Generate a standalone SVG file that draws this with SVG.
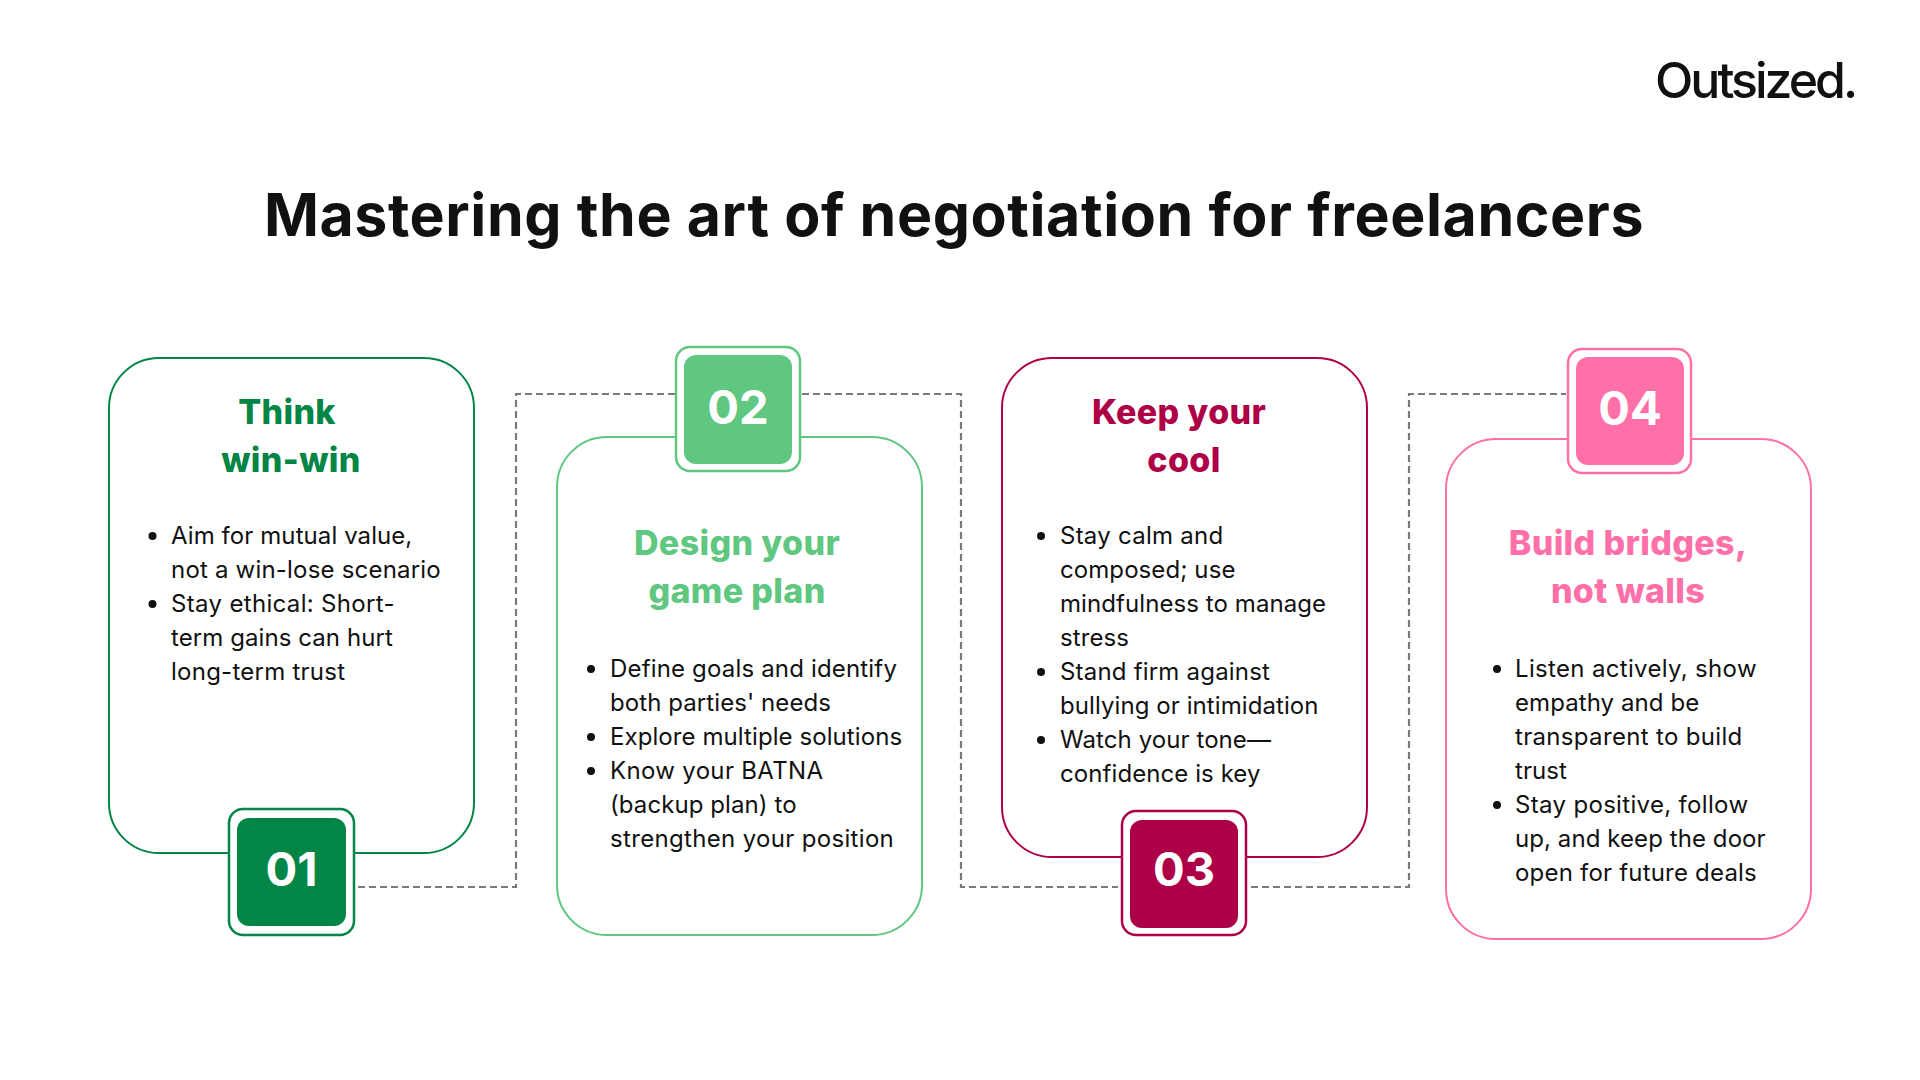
<svg xmlns="http://www.w3.org/2000/svg" width="1920" height="1080" viewBox="0 0 1920 1080">
<style>
text{font-family:"Inter","Noto Sans",sans-serif}
.card{fill:#fff;stroke-width:2}
.badge{fill:#fff;stroke-width:2.500}
.body{font-size:24px;fill:#111;letter-spacing:.08px}
.body.w{letter-spacing:.33px}
.head{font-size:34px;font-weight:800;text-anchor:middle;letter-spacing:.35px}
.num{font-size:47px;font-weight:700;fill:#fff;text-anchor:middle}
.title{font-size:59px;font-weight:700;fill:#111;text-anchor:middle;letter-spacing:.6px}
.logo{font-size:50px;font-weight:500;fill:#111;letter-spacing:-3px}
.dash{fill:none;stroke:#7a7a7a;stroke-width:2.200;stroke-dasharray:7 4}
.dot{fill:#111}
</style>
<rect width="1920" height="1080" fill="#fff"/>
<text class="logo" x="1655" y="98">Outsized.</text>
<text class="title" x="954" y="236">Mastering the art of negotiation for freelancers</text>
<g id="connectors">
<path class="dash" d="M358 887H516V394H675"/>
<path class="dash" d="M802 394H961V887H1118"/>
<path class="dash" d="M1251 887H1409V394H1566"/>
</g>
<g id="node-01">
<rect class="card" x="109" y="358" width="365" height="495" rx="50" stroke="#038546"/>
<rect class="badge" x="229" y="809" width="125" height="126" rx="14" stroke="#038546"/>
<rect x="237" y="818" width="109" height="108" rx="12" fill="#038546"/>
<text class="num" x="291.500" y="886">01</text>
<text class="head" fill="#038546" x="287" y="424">Think</text>
<text class="head" fill="#038546" x="291" y="472">win-win</text>
<circle class="dot" cx="152.500" cy="536" r="4"/>
<text class="body" x="171" y="544">Aim for mutual value,</text>
<text class="body" x="171" y="578" style="letter-spacing:.2px">not a win-lose scenario</text>
<circle class="dot" cx="152.500" cy="604" r="4"/>
<text class="body w" x="171" y="612">Stay ethical: Short-</text>
<text class="body" x="171" y="646">term gains can hurt</text>
<text class="body" x="171" y="680" style="letter-spacing:.25px">long-term trust</text>
</g>
<g id="node-02">
<rect class="card" x="557" y="437" width="365" height="498" rx="50" stroke="#5fc77f"/>
<rect class="badge" x="676" y="347" width="124" height="124" rx="14" stroke="#5fc77f"/>
<rect x="684" y="355" width="108" height="109" rx="12" fill="#5fc77f"/>
<text class="num" x="738" y="424">02</text>
<text class="head" fill="#5fc77f" x="737" y="555">Design your</text>
<text class="head" fill="#5fc77f" x="737" y="603">game plan</text>
<circle class="dot" cx="591" cy="669" r="4"/>
<text class="body" x="610" y="677" style="letter-spacing:.17px">Define goals and identify</text>
<text class="body" x="610" y="711">both parties' needs</text>
<circle class="dot" cx="591" cy="737" r="4"/>
<text class="body" x="610" y="745">Explore multiple solutions</text>
<circle class="dot" cx="591" cy="771" r="4"/>
<text class="body w" x="610" y="779">Know your BATNA</text>
<text class="body" x="610" y="813">(backup plan) to</text>
<text class="body w" x="610" y="847">strengthen your position</text>
</g>
<g id="node-03">
<rect class="card" x="1002" y="358" width="365" height="499" rx="50" stroke="#ae0046"/>
<rect class="badge" x="1122" y="811" width="124" height="124" rx="14" stroke="#ae0046"/>
<rect x="1130" y="820" width="108" height="108" rx="12" fill="#ae0046"/>
<text class="num" x="1184" y="886">03</text>
<text class="head" fill="#ae0046" x="1179" y="424">Keep your</text>
<text class="head" fill="#ae0046" x="1184" y="472">cool</text>
<circle class="dot" cx="1041" cy="536" r="4"/>
<text class="body" x="1060" y="544" style="letter-spacing:.25px">Stay calm and</text>
<text class="body" x="1060" y="578">composed; use</text>
<text class="body" x="1060" y="612">mindfulness to manage</text>
<text class="body" x="1060" y="646">stress</text>
<circle class="dot" cx="1041" cy="672" r="4"/>
<text class="body" x="1060" y="680" style="letter-spacing:.2px">Stand firm against</text>
<text class="body" x="1060" y="714">bullying or intimidation</text>
<circle class="dot" cx="1041" cy="740" r="4"/>
<text class="body" x="1060" y="748">Watch your tone—</text>
<text class="body" x="1060" y="782">confidence is key</text>
</g>
<g id="node-04">
<rect class="card" x="1446" y="439" width="365" height="500" rx="50" stroke="#ff6fa8"/>
<rect class="badge" x="1568" y="349" width="123" height="124" rx="14" stroke="#ff6fa8"/>
<rect x="1576" y="357" width="108" height="108" rx="12" fill="#ff6fa8"/>
<text class="num" x="1630" y="425">04</text>
<text class="head" fill="#ff6fa8" x="1628" y="555">Build bridges,</text>
<text class="head" fill="#ff6fa8" x="1628" y="603">not walls</text>
<circle class="dot" cx="1497" cy="669" r="4"/>
<text class="body w" x="1515" y="677">Listen actively, show</text>
<text class="body" x="1515" y="711">empathy and be</text>
<text class="body w" x="1515" y="745">transparent to build</text>
<text class="body" x="1515" y="779">trust</text>
<circle class="dot" cx="1497" cy="805" r="4"/>
<text class="body w" x="1515" y="813">Stay positive, follow</text>
<text class="body" x="1515" y="847">up, and keep the door</text>
<text class="body" x="1515" y="881" style="letter-spacing:.2px">open for future deals</text>
</g>
</svg>
